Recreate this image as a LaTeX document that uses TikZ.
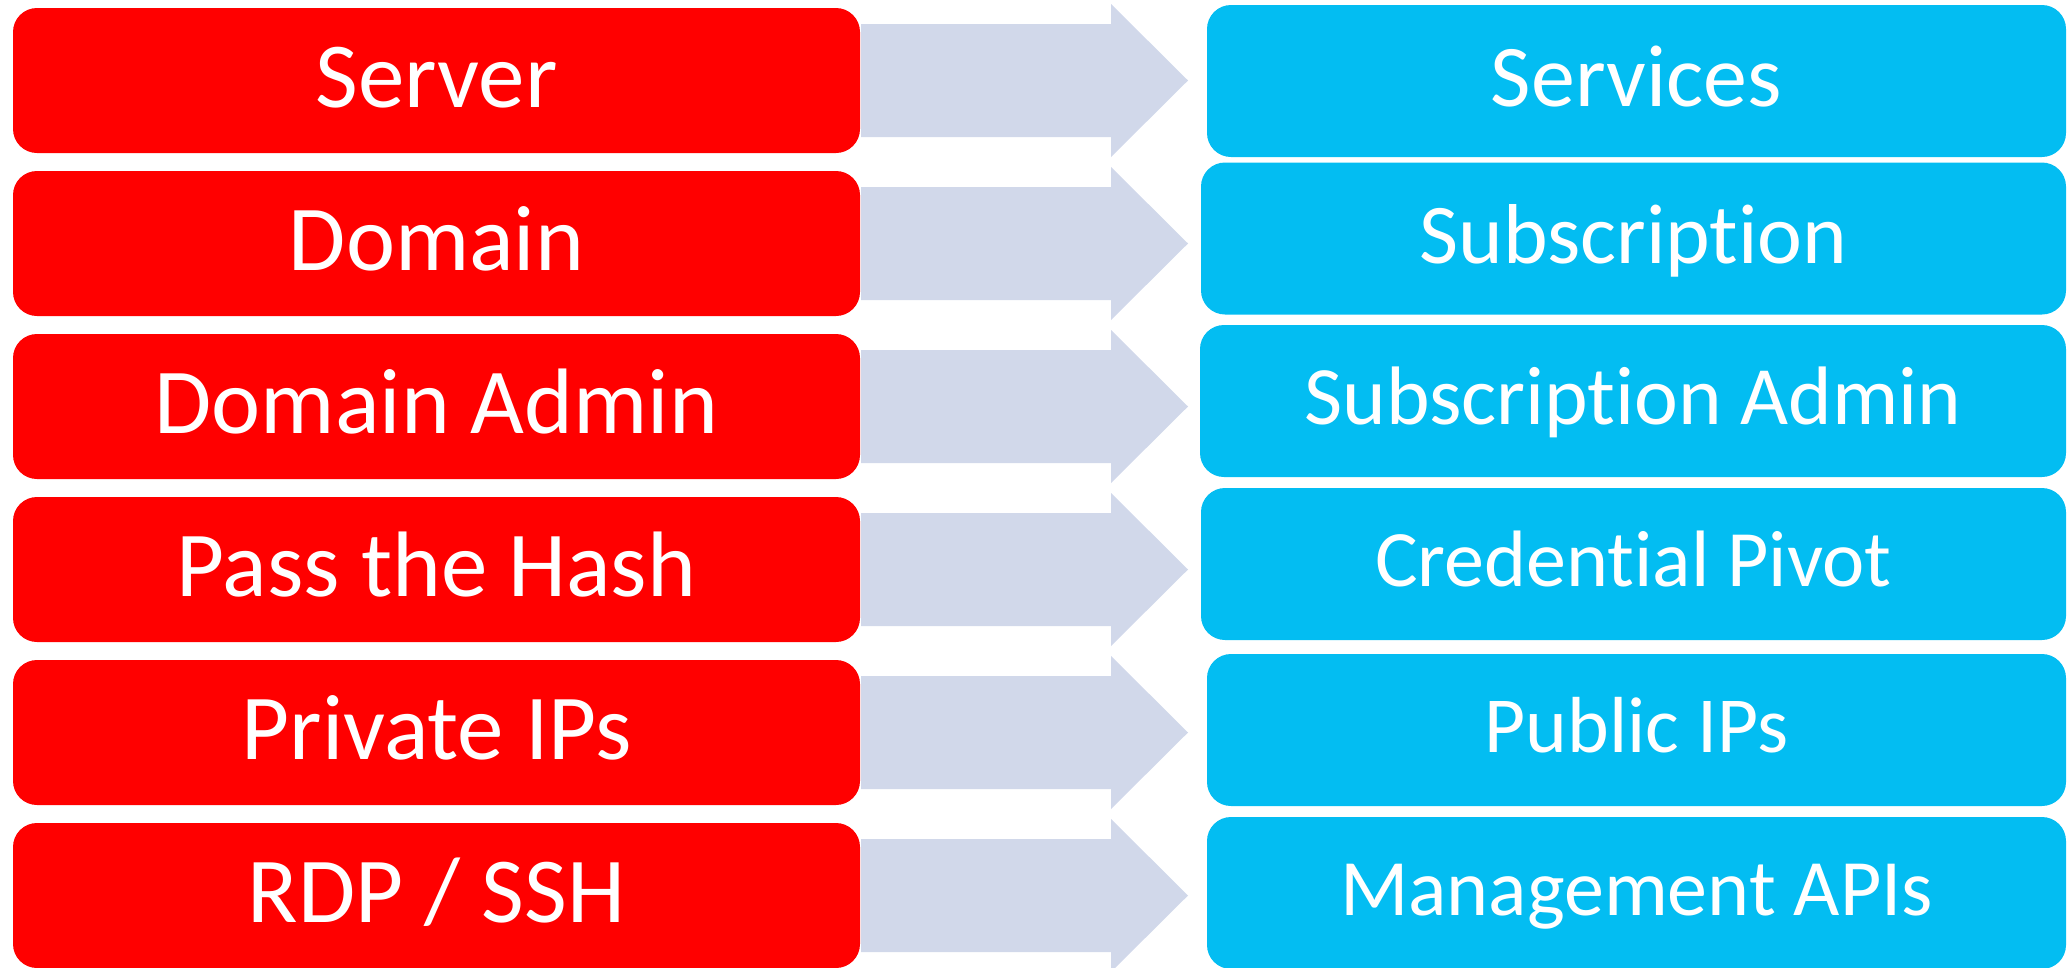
\documentclass[tikz,border=0pt]{standalone}
\usepackage{fontspec}
\setmainfont{Carlito}[Ligatures=NoCommon]
\definecolor{redfill}{HTML}{FF0000}
\definecolor{bluefill}{HTML}{03BDF2}
\definecolor{arrowfill}{HTML}{D1D8EA}
\tikzset{
  boxtext/.style={text=white, text depth=6pt, inner sep=0pt, rounded corners=24pt},
  fs/.style args={#1/#2}{font=\fontsize{#1}{#1}\selectfont, text height=#2},
  redbox/.style={boxtext, fill=redfill, minimum width=847pt, minimum height=145pt, fs={93pt/59pt}},
  bluebox/.style={boxtext, fill=bluefill, minimum height=152pt},
  blockarrow/.style={fill=arrowfill, draw=none}
}
\begin{document}
\begin{tikzpicture}[x=1pt, y=-1pt]
\useasboundingbox (0,0) rectangle (2067,967);
% block arrows
\foreach \c [count=\i] in {80.5,243.5,406.5,569.5,732.5,895.5}{
  \fill[blockarrow] (861,\c-56.5) -- (1111,\c-56.5) -- (1111,\c-76.5) -- (1188,\c) -- (1111,\c+76.5) -- (1111,\c+56.5) -- (861,\c+56.5) -- cycle;
}
% left column
\node[redbox] (r1) at (436.5,80.5) {Server};
\node[redbox] (r2) at (436.5,243.5) {Domain};
\node[redbox] (r3) at (436.5,406.5) {Domain Admin};
\node[redbox] (r4) at (436.5,569.5) {Pass the Hash};
\node[redbox] (r5) at (436.5,732.5) {Private IPs};
\node[redbox] (r6) at (436.5,895.5) {RDP / SSH};
% right column
\node[bluebox, minimum width=859pt, fs={88pt/57pt}] (b1) at (1636.5,81) {Services};
\node[bluebox, minimum width=865pt, fs={85pt/55pt}] (b2) at (1633.5,238.5) {Subscription};
\node[bluebox, minimum width=866pt, fs={83pt/53.5pt}] (b3) at (1633,401) {Subscription Admin};
\node[bluebox, minimum width=865pt, fs={80pt/51.5pt}] (b4) at (1633.5,564) {Credential Pivot};
\node[bluebox, minimum width=859pt, fs={79.5pt/51pt}] (b5) at (1636.5,730) {Public IPs};
\node[bluebox, minimum width=859pt, fs={80pt/51.5pt}] (b6) at (1636.5,893) {Management APIs};
\end{tikzpicture}
\end{document}
